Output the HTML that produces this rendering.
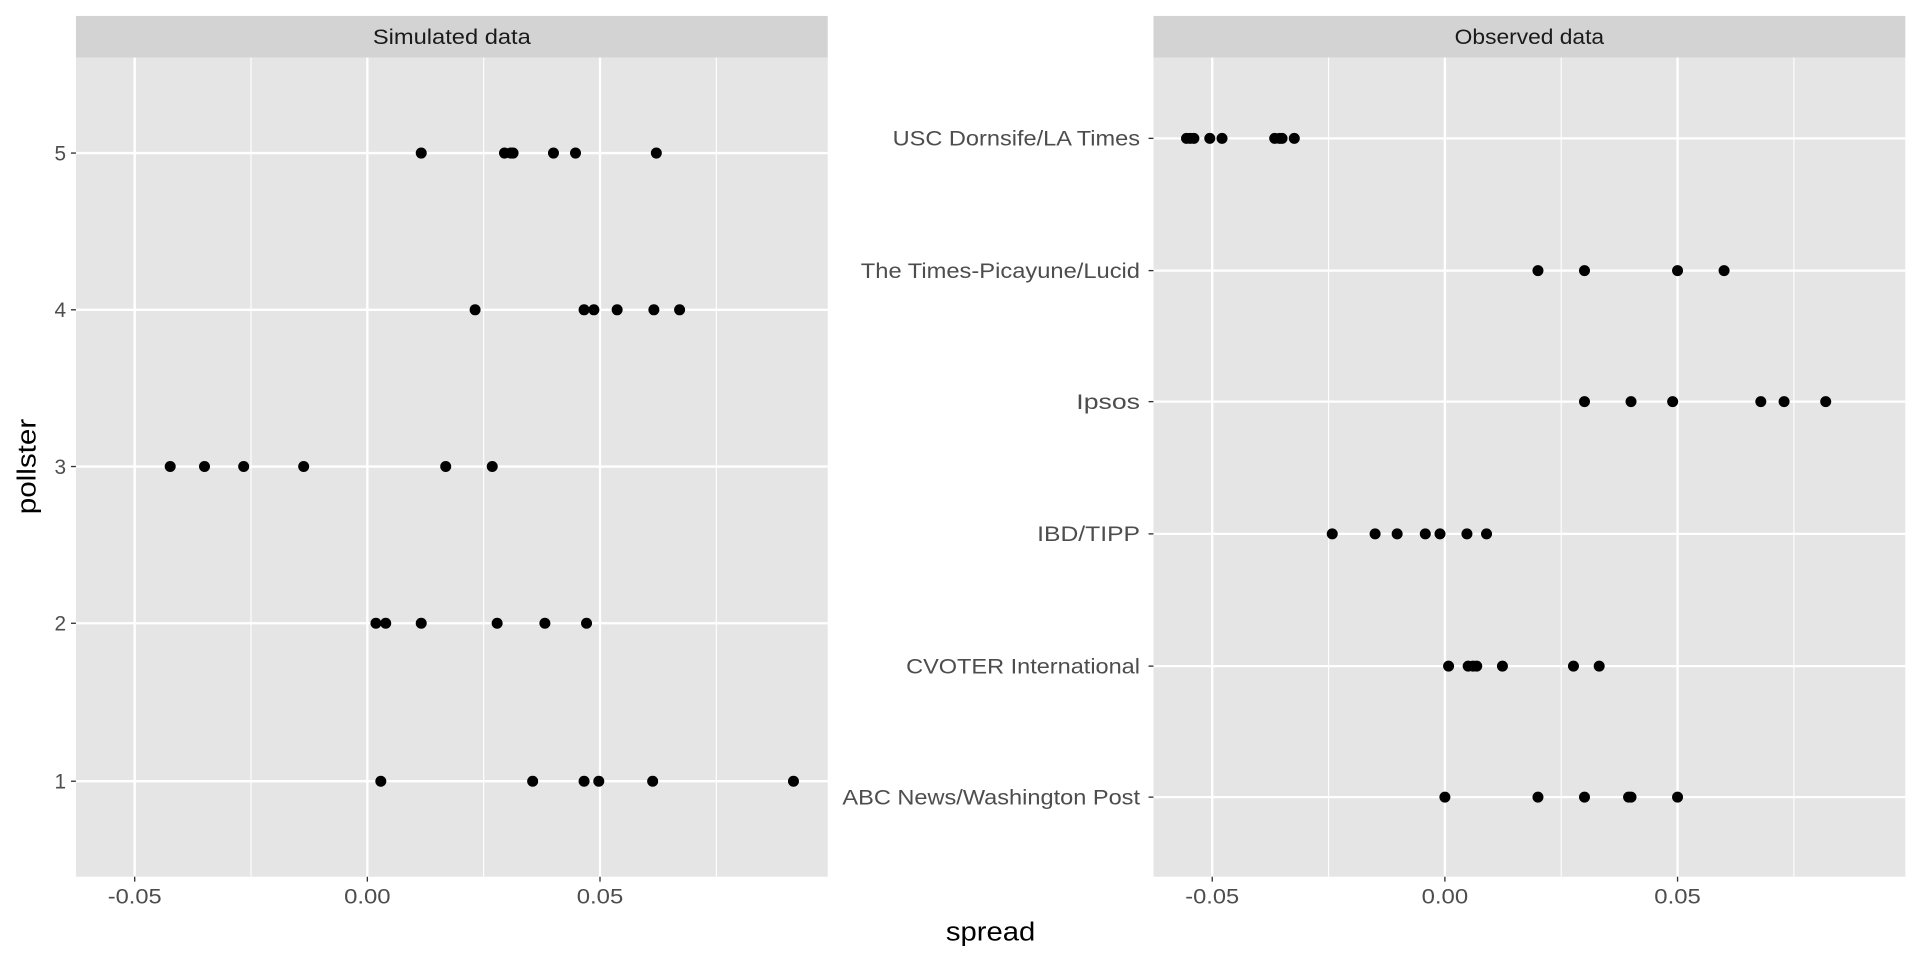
<!DOCTYPE html>
<html><head><style>html,body{margin:0;padding:0;background:#fff}svg{display:block}</style></head><body>
<svg width="1920" height="960" viewBox="0 0 1568 784" xmlns="http://www.w3.org/2000/svg" font-family="Liberation Sans, sans-serif">
<rect width="1568" height="784" fill="#fff"/>
<!-- left panel -->
<rect x="62" y="13" width="614" height="34" fill="#d3d3d3"/>
<text x="369" y="36" font-size="17" fill="#1a1a1a" text-anchor="middle" textLength="129" lengthAdjust="spacingAndGlyphs">Simulated data</text>
<rect x="62" y="47" width="614" height="669" fill="#e5e5e5"/>
<g stroke="#fff" stroke-width="0.9"><line x1="205" y1="47" x2="205" y2="716"/><line x1="395" y1="47" x2="395" y2="716"/><line x1="585" y1="47" x2="585" y2="716"/></g>
<g stroke="#fff" stroke-width="1.9">
<line x1="110" y1="47" x2="110" y2="716"/><line x1="300" y1="47" x2="300" y2="716"/><line x1="490" y1="47" x2="490" y2="716"/>
<line x1="62" y1="125" x2="676" y2="125"/><line x1="62" y1="253" x2="676" y2="253"/><line x1="62" y1="381" x2="676" y2="381"/><line x1="62" y1="509" x2="676" y2="509"/><line x1="62" y1="638" x2="676" y2="638"/>
</g>
<g stroke="#333" stroke-width="1.1">
<line x1="58" y1="125" x2="62" y2="125"/><line x1="58" y1="253" x2="62" y2="253"/><line x1="58" y1="381" x2="62" y2="381"/><line x1="58" y1="509" x2="62" y2="509"/><line x1="58" y1="638" x2="62" y2="638"/>
<line x1="110" y1="716" x2="110" y2="720"/><line x1="300" y1="716" x2="300" y2="720"/><line x1="490" y1="716" x2="490" y2="720"/>
</g>
<g font-size="17" fill="#4d4d4d" text-anchor="end">
<text x="54" y="131">5</text><text x="54" y="259">4</text><text x="54" y="387">3</text><text x="54" y="515">2</text><text x="54" y="644">1</text>
</g>
<g font-size="17" fill="#4d4d4d" text-anchor="middle">
<text x="110" y="738" textLength="44" lengthAdjust="spacingAndGlyphs">-0.05</text><text x="300" y="738" textLength="38" lengthAdjust="spacingAndGlyphs">0.00</text><text x="490" y="738" textLength="38" lengthAdjust="spacingAndGlyphs">0.05</text>
</g>
<g fill="#000">
<circle cx="344" cy="125" r="4.5"/><circle cx="412" cy="125" r="4.5"/><circle cx="417" cy="125" r="4.5"/><circle cx="419" cy="125" r="4.5"/><circle cx="452" cy="125" r="4.5"/><circle cx="470" cy="125" r="4.5"/><circle cx="536" cy="125" r="4.5"/>
<circle cx="388" cy="253" r="4.5"/><circle cx="477" cy="253" r="4.5"/><circle cx="485" cy="253" r="4.5"/><circle cx="504" cy="253" r="4.5"/><circle cx="534" cy="253" r="4.5"/><circle cx="555" cy="253" r="4.5"/>
<circle cx="139" cy="381" r="4.5"/><circle cx="167" cy="381" r="4.5"/><circle cx="199" cy="381" r="4.5"/><circle cx="248" cy="381" r="4.5"/><circle cx="364" cy="381" r="4.5"/><circle cx="402" cy="381" r="4.5"/>
<circle cx="307" cy="509" r="4.5"/><circle cx="315" cy="509" r="4.5"/><circle cx="344" cy="509" r="4.5"/><circle cx="406" cy="509" r="4.5"/><circle cx="445" cy="509" r="4.5"/><circle cx="479" cy="509" r="4.5"/>
<circle cx="311" cy="638" r="4.5"/><circle cx="435" cy="638" r="4.5"/><circle cx="477" cy="638" r="4.5"/><circle cx="489" cy="638" r="4.5"/><circle cx="533" cy="638" r="4.5"/><circle cx="648" cy="638" r="4.5"/>
</g>
<!-- right panel -->
<rect x="942" y="13" width="614" height="34" fill="#d3d3d3"/>
<text x="1249" y="36" font-size="17" fill="#1a1a1a" text-anchor="middle" textLength="122" lengthAdjust="spacingAndGlyphs">Observed data</text>
<rect x="942" y="47" width="614" height="669" fill="#e5e5e5"/>
<g stroke="#fff" stroke-width="0.9"><line x1="1085" y1="47" x2="1085" y2="716"/><line x1="1275" y1="47" x2="1275" y2="716"/><line x1="1465" y1="47" x2="1465" y2="716"/></g>
<g stroke="#fff" stroke-width="1.9">
<line x1="990" y1="47" x2="990" y2="716"/><line x1="1180" y1="47" x2="1180" y2="716"/><line x1="1370" y1="47" x2="1370" y2="716"/>
<line x1="942" y1="113" x2="1556" y2="113"/><line x1="942" y1="221" x2="1556" y2="221"/><line x1="942" y1="328" x2="1556" y2="328"/><line x1="942" y1="436" x2="1556" y2="436"/><line x1="942" y1="544" x2="1556" y2="544"/><line x1="942" y1="651" x2="1556" y2="651"/>
</g>
<g stroke="#333" stroke-width="1.1">
<line x1="938" y1="113" x2="942" y2="113"/><line x1="938" y1="221" x2="942" y2="221"/><line x1="938" y1="328" x2="942" y2="328"/><line x1="938" y1="436" x2="942" y2="436"/><line x1="938" y1="544" x2="942" y2="544"/><line x1="938" y1="651" x2="942" y2="651"/>
<line x1="990" y1="716" x2="990" y2="720"/><line x1="1180" y1="716" x2="1180" y2="720"/><line x1="1370" y1="716" x2="1370" y2="720"/>
</g>
<g font-size="17" fill="#4d4d4d" text-anchor="end" lengthAdjust="spacingAndGlyphs">
<text x="931" y="119" textLength="202" lengthAdjust="spacingAndGlyphs">USC Dornsife/LA Times</text><text x="931" y="227" textLength="228" lengthAdjust="spacingAndGlyphs">The Times-Picayune/Lucid</text><text x="931" y="334" textLength="52" lengthAdjust="spacingAndGlyphs">Ipsos</text><text x="931" y="442" textLength="84" lengthAdjust="spacingAndGlyphs">IBD/TIPP</text><text x="931" y="550" textLength="191" lengthAdjust="spacingAndGlyphs">CVOTER International</text><text x="931" y="657" textLength="243" lengthAdjust="spacingAndGlyphs">ABC News/Washington Post</text>
</g>
<g font-size="17" fill="#4d4d4d" text-anchor="middle">
<text x="990" y="738" textLength="44" lengthAdjust="spacingAndGlyphs">-0.05</text><text x="1180" y="738" textLength="38" lengthAdjust="spacingAndGlyphs">0.00</text><text x="1370" y="738" textLength="38" lengthAdjust="spacingAndGlyphs">0.05</text>
</g>
<g fill="#000">
<circle cx="969" cy="113" r="4.5"/><circle cx="972" cy="113" r="4.5"/><circle cx="975" cy="113" r="4.5"/><circle cx="988" cy="113" r="4.5"/><circle cx="998" cy="113" r="4.5"/><circle cx="1041" cy="113" r="4.5"/><circle cx="1045" cy="113" r="4.5"/><circle cx="1047" cy="113" r="4.5"/><circle cx="1057" cy="113" r="4.5"/>
<circle cx="1256" cy="221" r="4.5"/><circle cx="1294" cy="221" r="4.5"/><circle cx="1370" cy="221" r="4.5"/><circle cx="1408" cy="221" r="4.5"/>
<circle cx="1294" cy="328" r="4.5"/><circle cx="1332" cy="328" r="4.5"/><circle cx="1366" cy="328" r="4.5"/><circle cx="1438" cy="328" r="4.5"/><circle cx="1457" cy="328" r="4.5"/><circle cx="1491" cy="328" r="4.5"/>
<circle cx="1088" cy="436" r="4.5"/><circle cx="1123" cy="436" r="4.5"/><circle cx="1141" cy="436" r="4.5"/><circle cx="1164" cy="436" r="4.5"/><circle cx="1176" cy="436" r="4.5"/><circle cx="1198" cy="436" r="4.5"/><circle cx="1214" cy="436" r="4.5"/>
<circle cx="1183" cy="544" r="4.5"/><circle cx="1199" cy="544" r="4.5"/><circle cx="1203" cy="544" r="4.5"/><circle cx="1206" cy="544" r="4.5"/><circle cx="1227" cy="544" r="4.5"/><circle cx="1285" cy="544" r="4.5"/><circle cx="1306" cy="544" r="4.5"/>
<circle cx="1180" cy="651" r="4.5"/><circle cx="1256" cy="651" r="4.5"/><circle cx="1294" cy="651" r="4.5"/><circle cx="1330" cy="651" r="4.5"/><circle cx="1332" cy="651" r="4.5"/><circle cx="1370" cy="651" r="4.5"/>
</g>
<text x="809" y="768" font-size="21" fill="#000" text-anchor="middle" textLength="73" lengthAdjust="spacingAndGlyphs">spread</text>
<text transform="translate(29,381) rotate(-90)" font-size="21" fill="#000" text-anchor="middle" textLength="78" lengthAdjust="spacingAndGlyphs">pollster</text>
</svg>
</body></html>
